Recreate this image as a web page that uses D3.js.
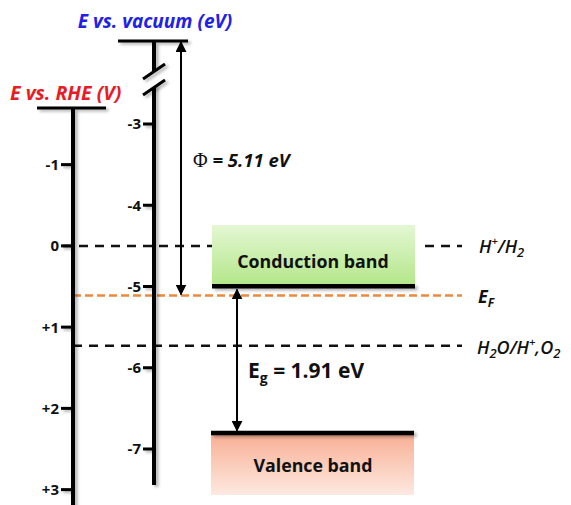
<!DOCTYPE html>
<html><head><meta charset="utf-8">
<script src="https://cdn.jsdelivr.net/npm/d3@7"></script>
<style>html,body{margin:0;padding:0;background:#fff;}svg{display:block;}</style>
</head><body>
<script>
// ---- data ----
const vacTicks = [-3, -4, -5, -6, -7];
const vacTickLabels = ["-3", "-4", "-5", "-6", "-7"];
const rheTicks = [-1, 0, 1, 2, 3];
const rheTickLabels = ["-1", "0", "+1", "+2", "+3"];
const rheToVacOffset = -4.5;          // E_vac = -4.5 - E_RHE
const cbEdge = -5.0;                  // conduction band edge (eV vs vacuum)
const vbEdge = -6.8;                  // valence band edge (eV vs vacuum)
const fermiLevel = -5.11;             // E_F (eV vs vacuum)
const redoxRHE = [0, 1.23];           // H+/H2, H2O/H+,O2 (V vs RHE)
const phiLabel = "5.11 eV";
const egLabel = "1.91 eV";

const W = 571, H = 505;
const svg = d3.select("body").append("svg").attr("width", W).attr("height", H);
const defs = svg.append("defs");
const sh = defs.append("filter").attr("id", "sh").attr("filterUnits", "userSpaceOnUse")
  .attr("x", 0).attr("y", 0).attr("width", W).attr("height", H);
sh.append("feDropShadow").attr("dx", 2.5).attr("dy", 2).attr("stdDeviation", 1.6).attr("flood-color", "#000").attr("flood-opacity", 0.3);

const gCB = defs.append("linearGradient").attr("id", "gcb").attr("x1", 0).attr("y1", 0).attr("x2", 0).attr("y2", 1);
gCB.append("stop").attr("offset", "0%").attr("stop-color", "#e4f7d4");
gCB.append("stop").attr("offset", "100%").attr("stop-color", "#b2e687");
const gVB = defs.append("linearGradient").attr("id", "gvb").attr("x1", 0).attr("y1", 0).attr("x2", 0).attr("y2", 1);
gVB.append("stop").attr("offset", "0%").attr("stop-color", "#f8ae93");
gVB.append("stop").attr("offset", "100%").attr("stop-color", "#fde9e0");

const m = defs.append("marker").attr("id", "arr").attr("viewBox", "0 0 10 10").attr("refX", 9).attr("refY", 5)
  .attr("markerWidth", 5.5).attr("markerHeight", 5.5).attr("orient", "auto-start-reverse").attr("markerUnits", "strokeWidth");
m.append("path").attr("d", "M0,0 L10,5 L0,10 z").attr("fill", "#000");

// ---- scales ----
const yVac = d3.scaleLinear().domain([-3, -7]).range([124, 449]);
const yRhe = v => yVac(rheToVacOffset - v);
const yTop = 41;           // vacuum level (broken axis)
const xRhe = 73, xVac = 154;
const font = "'Open Sans', sans-serif";

// ---- band boxes ----
const bx0 = 212, bx1 = 415;
svg.append("rect").attr("x", bx0).attr("y", 225).attr("width", bx1 - bx0).attr("height", yVac(cbEdge) - 225).attr("fill", "url(#gcb)");
svg.append("rect").attr("x", bx0 - 1).attr("y", yVac(vbEdge)).attr("width", bx1 - bx0).attr("height", 495 - yVac(vbEdge)).attr("fill", "url(#gvb)");

// ---- dashed reference lines ----
const yH2 = yRhe(redoxRHE[0]);
[[xRhe - 10, bx0], [bx1 + 10, 462]].forEach(([a, b]) => {
  svg.append("line").attr("x1", a).attr("x2", b).attr("y1", yH2).attr("y2", yH2)
    .attr("stroke", "#111").attr("stroke-width", 2.5).attr("stroke-dasharray", "9,7");
});
const yO2 = yRhe(redoxRHE[1]);
svg.append("line").attr("x1", xRhe).attr("x2", 462).attr("y1", yO2).attr("y2", yO2)
  .attr("stroke", "#111").attr("stroke-width", 2.5).attr("stroke-dasharray", "9,7");
const yEF = yVac(fermiLevel);
svg.append("line").attr("x1", xRhe).attr("x2", 462).attr("y1", yEF).attr("y2", yEF)
  .attr("stroke", "#ec8a3c").attr("stroke-width", 2.5).attr("stroke-dasharray", "8,4");

// ---- band edges ----
svg.append("rect").attr("x", bx0).attr("width", bx1 - bx0).attr("y", yVac(cbEdge) - 2.5).attr("height", 4.5)
  .attr("fill", "#000").attr("filter", "url(#sh)");
svg.append("rect").attr("x", bx0 - 1).attr("width", bx1 - bx0).attr("y", yVac(vbEdge) - 2).attr("height", 4.5)
  .attr("fill", "#000").attr("filter", "url(#sh)");

// ---- RHE axis ----
const gR = svg.append("g").attr("filter", "url(#sh)");
gR.append("line").attr("x1", 37).attr("x2", 106).attr("y1", 108).attr("y2", 108).attr("stroke", "#000").attr("stroke-width", 3);
gR.append("line").attr("x1", xRhe).attr("x2", xRhe).attr("y1", 108).attr("y2", H + 5).attr("stroke", "#000").attr("stroke-width", 4);
gR.selectAll("line.t").data(rheTicks).enter().append("line")
  .attr("x1", xRhe - 12).attr("x2", xRhe).attr("y1", d => yRhe(d)).attr("y2", d => yRhe(d)).attr("stroke", "#000").attr("stroke-width", 3);
svg.selectAll("text.rt").data(rheTicks).enter().append("text")
  .attr("x", 59).attr("y", d => yRhe(d)).attr("dy", "0.36em").attr("text-anchor", "end")
  .attr("font-family", font).attr("font-weight", 700).attr("font-size", 15).attr("fill", "#111")
  .text((d, i) => rheTickLabels[i]);

// ---- Vacuum axis ----
const gV = svg.append("g").attr("filter", "url(#sh)");
gV.append("line").attr("x1", 118).attr("x2", 188).attr("y1", yTop).attr("y2", yTop).attr("stroke", "#000").attr("stroke-width", 3);
gV.append("line").attr("x1", xVac).attr("x2", xVac).attr("y1", yTop).attr("y2", 485).attr("stroke", "#000").attr("stroke-width", 4);
gV.selectAll("line.t").data(vacTicks).enter().append("line")
  .attr("x1", xVac - 11).attr("x2", xVac).attr("y1", d => yVac(d)).attr("y2", d => yVac(d)).attr("stroke", "#000").attr("stroke-width", 3);
// axis break
svg.append("polygon").attr("points", `142,79 166,63 166,79 142,95`).attr("fill", "#fff");
[0, 16].forEach(o => {
  svg.append("line").attr("x1", 143).attr("y1", 79 + o).attr("x2", 165).attr("y2", 64 + o)
    .attr("stroke", "#000").attr("stroke-width", 3).attr("filter", "url(#sh)");
});
svg.selectAll("text.vt").data(vacTicks).enter().append("text")
  .attr("x", 141).attr("y", d => yVac(d)).attr("dy", "0.36em").attr("text-anchor", "end")
  .attr("font-family", font).attr("font-weight", 700).attr("font-size", 15).attr("fill", "#111")
  .text((d, i) => vacTickLabels[i]);

// ---- axis titles ----
svg.append("text").attr("x", 155).attr("y", 28).attr("text-anchor", "middle")
  .attr("font-family", font).attr("font-weight", 700).attr("font-style", "italic").attr("font-size", 19)
  .attr("fill", "#2222e6").text("E vs. vacuum (eV)");
svg.append("text").attr("x", 10).attr("y", 100)
  .attr("font-family", font).attr("font-weight", 700).attr("font-style", "italic").attr("font-size", 19.5)
  .attr("fill", "#e81c24").text("E vs. RHE (V)");

// ---- arrows ----
svg.append("line").attr("x1", 181).attr("x2", 181).attr("y1", yTop + 1).attr("y2", yEF - 1)
  .attr("stroke", "#000").attr("stroke-width", 2).attr("marker-start", "url(#arr)").attr("marker-end", "url(#arr)");
svg.append("line").attr("x1", 237).attr("x2", 237).attr("y1", yVac(cbEdge) + 3).attr("y2", yVac(vbEdge) - 2)
  .attr("stroke", "#000").attr("stroke-width", 2).attr("marker-start", "url(#arr)").attr("marker-end", "url(#arr)");

// ---- labels ----
const phi = svg.append("text").attr("x", 193).attr("y", 167).attr("font-family", font).attr("font-weight", 700)
  .attr("font-size", 18.5).attr("fill", "#111");
phi.append("tspan").attr("font-family", "'Liberation Serif', serif").attr("font-weight", 400).attr("font-size", 20).text("Φ");
phi.append("tspan").attr("font-style", "italic").text(" = " + phiLabel);

svg.append("text").attr("x", 313).attr("y", 268).attr("text-anchor", "middle").attr("font-family", font)
  .attr("font-weight", 700).attr("font-size", 17.8).attr("fill", "#111").text("Conduction band");
svg.append("text").attr("x", 313).attr("y", 472).attr("text-anchor", "middle").attr("font-family", font)
  .attr("font-weight", 700).attr("font-size", 17.8).attr("fill", "#111").text("Valence band");

const eg = svg.append("text").attr("x", 248).attr("y", 378).attr("font-family", font).attr("font-weight", 700)
  .attr("font-size", 21).attr("fill", "#111");
eg.append("tspan").text("E");
eg.append("tspan").attr("font-size", 14).attr("dy", 5).text("g");
eg.append("tspan").attr("dy", -5).text(" = " + egLabel);

const lab = (x, y) => svg.append("text").attr("x", x).attr("y", y).attr("font-family", font)
  .attr("font-weight", 600).attr("font-style", "italic").attr("font-size", 18).attr("fill", "#111");
const t1 = lab(479, yH2 + 7);
t1.append("tspan").text("H");
t1.append("tspan").attr("font-size", 11).attr("dy", -8).text("+");
t1.append("tspan").attr("dy", 8).text("/H");
t1.append("tspan").attr("font-size", 13).attr("dy", 4).text("2");
const t2 = lab(478, yEF + 8).attr("font-weight", 700);
t2.append("tspan").text("E");
t2.append("tspan").attr("font-size", 12).attr("dy", 4).text("F");
const t3 = lab(477, yO2 + 8);
t3.append("tspan").text("H");
t3.append("tspan").attr("font-size", 13).attr("dy", 4).text("2");
t3.append("tspan").attr("dy", -4).text("O/H");
t3.append("tspan").attr("font-size", 11).attr("dy", -8).text("+");
t3.append("tspan").attr("dy", 8).text(",O");
t3.append("tspan").attr("font-size", 13).attr("dy", 4).text("2");
</script>
</body></html>
